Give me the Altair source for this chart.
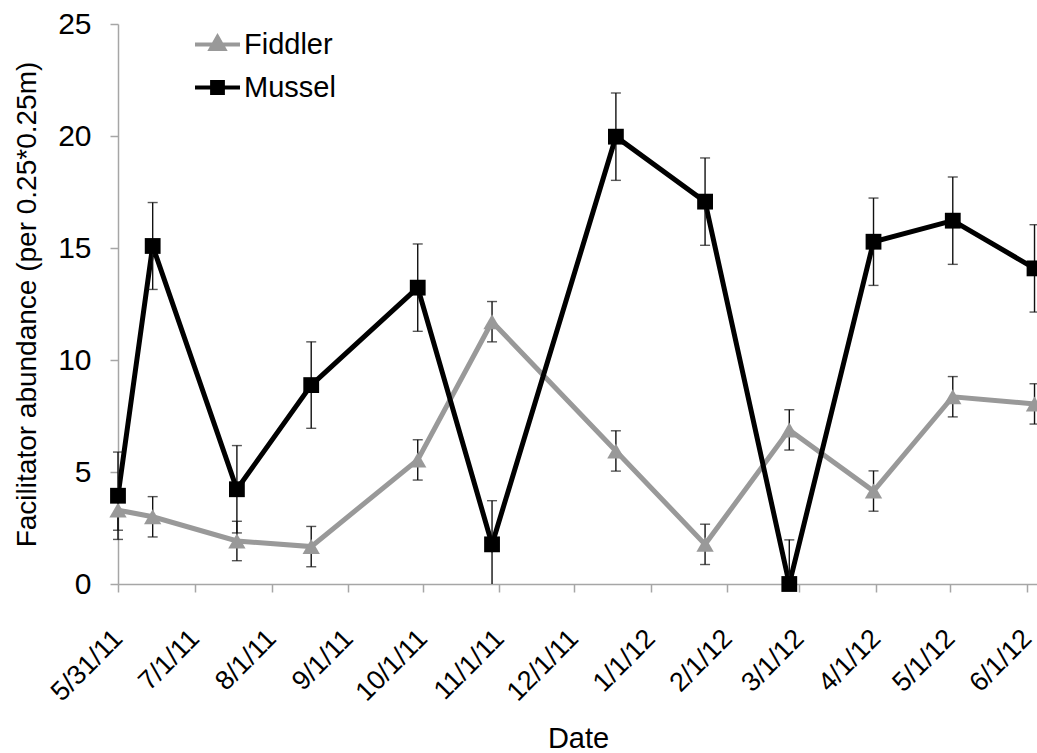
import altair as alt
import pandas as pd

# ---- data ----
dates = ["2011/05/31", "2011/06/14", "2011/07/18", "2011/08/17", "2011/09/29", "2011/10/29",
         "2011/12/18", "2012/01/23", "2012/02/26", "2012/03/31", "2012/05/02", "2012/06/04"]
mussel = [3.94, 15.09, 4.23, 8.88, 13.23, 1.77, 19.97, 17.07, 0.0, 15.28, 16.22, 14.09]
mussel_se = [1.95, 1.94, 1.95, 1.93, 1.95, 1.95, 1.95, 1.95, 1.97, 1.95, 1.95, 1.95]
fiddler = [3.30, 3.00, 1.92, 1.67, 5.54, 11.71, 5.94, 1.77, 6.88, 4.15, 8.36, 8.04]
fiddler_se = [0.90, 0.90, 0.88, 0.90, 0.90, 0.90, 0.90, 0.90, 0.90, 0.90, 0.90, 0.90]
series = ["Fiddler", "Mussel"]
colors = ["#999999", "#000000"]
tick_dates = [(2011, 5, 31), (2011, 7, 1), (2011, 8, 1), (2011, 9, 1), (2011, 10, 1),
              (2011, 11, 1), (2011, 12, 1), (2012, 1, 1), (2012, 2, 1), (2012, 3, 1),
              (2012, 4, 1), (2012, 5, 1), (2012, 6, 1)]
x_domain = [(2011, 5, 31), (2012, 6, 5)]
y_ticks = [0, 5, 10, 15, 20, 25]

# legend symbols: a line segment with the series marker on it
legend_shapes = ["M-1,0H1M0,-0.33L0.3,0.2H-0.3Z",
                 "M-1,0H1M-0.24,-0.24H0.24V0.24H-0.24Z"]

rows = []
for name, vals, ses in (("Fiddler", fiddler, fiddler_se), ("Mussel", mussel, mussel_se)):
    for d, v, s in zip(dates, vals, ses):
        lo = v - s
        rows.append({"date": d, "series": name, "value": v, "hi": v + s,
                     "lo_bar": max(lo, 0.0), "lo_cap": lo if lo >= 0 else None})
df = pd.DataFrame(rows)

FONT = "Liberation Sans"
GRAY = "#a6a6a6"


def dt(t):
    return alt.DateTime(year=t[0], month=t[1], date=t[2])


x_enc = alt.X(
    "date:T",
    scale=alt.Scale(domain=[dt(x_domain[0]), dt(x_domain[1])], nice=False),
    axis=alt.Axis(
        values=[dt(t) for t in tick_dates], format="%-m/%-d/%y",
        labelAngle=-45, labelAlign="right", labelBaseline="middle",
        labelFontSize=27, labelPadding=42, tickSize=8, labelOverlap=False,
        labelFlush=False, title="Date", titleFontSize=29, titleFontWeight="normal",
        titleX=460, titleY=154, titleBaseline="middle", titleAlign="center",
    ),
)
y_scale = alt.Scale(domain=[0, 25], nice=False)
y_axis = alt.Axis(
    values=y_ticks, labelFontSize=30, labelPadding=19, tickSize=8,
    title="Facilitator abundance (per 0.25*0.25m)", titleFontSize=28,
    titleFontWeight="normal", titleX=-91, titleY=280, titleAngle=270,
    titleBaseline="middle", titleAlign="center",
)
y_enc = alt.Y("value:Q", scale=y_scale, axis=y_axis)

legend = alt.Legend(
    title=None, orient="none", legendX=75, legendY=-4, padding=0,
    symbolSize=2025, symbolStrokeWidth=4, symbolOpacity=1, rowPadding=3,
    labelOffset=2, labelFontSize=29, labelFont=FONT, labelColor="#000000",
)

color_scale = alt.Scale(domain=series, range=colors)
color_enc = alt.Color("series:N", scale=color_scale, legend=legend)
base = alt.Chart(df)

lines = base.mark_line(strokeWidth=5, clip=True).encode(x=x_enc, y=y_enc, color=color_enc)
err = base.mark_rule(color="#111111", strokeWidth=1.4).encode(
    x="date:T", y="lo_bar:Q", y2="hi:Q")
cap_lo = base.mark_tick(orient="horizontal", size=10, thickness=1.4, color="#111111").encode(
    x="date:T", y="lo_cap:Q")
cap_hi = base.mark_tick(orient="horizontal", size=10, thickness=1.4, color="#111111").encode(
    x="date:T", y="hi:Q")
pts_f = base.transform_filter(alt.datum.series == "Fiddler").mark_point(
    filled=True, opacity=1, size=300, shape="triangle-up").encode(
    x="date:T", y="value:Q", color=color_enc)
pts_m = base.transform_filter(alt.datum.series == "Mussel").mark_point(
    filled=True, opacity=1, size=250, shape="square").encode(
    x="date:T", y="value:Q", color=color_enc)

# legend-only layer (no rows pass the filter; the legend comes from the scales)
leg = base.transform_filter("false").mark_point(filled=True, strokeWidth=4).encode(
    x="date:T", y="value:Q",
    color=color_enc,
    stroke=alt.Stroke("series:N", scale=alt.Scale(domain=series, range=colors), legend=legend),
    shape=alt.Shape("series:N", scale=alt.Scale(domain=series, range=legend_shapes),
                    legend=legend),
)

chart = alt.layer(lines, err, cap_lo, cap_hi, pts_f, pts_m, leg).properties(
    width=919, height=560,
    padding={"left": 118, "top": 24, "right": 0, "bottom": 169},
    autosize=alt.AutoSizeParams(type="none"),
    background="white",
).configure_view(stroke=None).configure_axis(
    labelFont=FONT, titleFont=FONT, labelColor="#000000", titleColor="#000000",
    domainColor=GRAY, tickColor=GRAY, domainWidth=1.5, tickWidth=1.5, grid=False,
)

chart.save("out.html", embed_options={"renderer": "svg", "actions": False})
